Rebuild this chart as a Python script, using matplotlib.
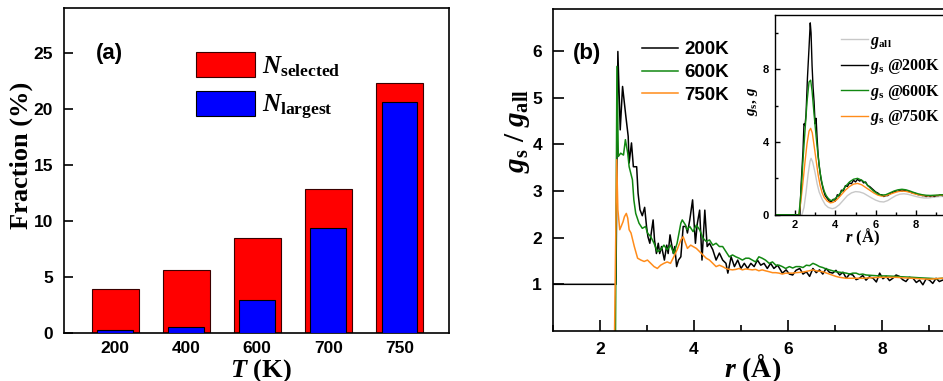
import matplotlib
matplotlib.use('Agg')
import numpy as np
import matplotlib.pyplot as plt
from matplotlib.patches import Patch

plt.rcParams.update({
    'mathtext.fontset': 'custom',
    'mathtext.rm': 'Liberation Serif:bold',
    'mathtext.it': 'Liberation Serif:italic:bold',
    'mathtext.bf': 'Liberation Serif:bold',
    'font.family': 'Liberation Sans',
    'font.weight': 'bold',
})

# ---------------- data: panel (a) ----------------
temps = ['200', '400', '600', '700', '750']
n_selected = [3.9, 5.6, 8.5, 12.85, 22.3]
n_largest = [0.3, 0.5, 2.95, 9.4, 20.6]

# ---------------- data: panel (b) main ----------------
r_200 = [1.0, 2.34, 2.38, 2.43, 2.48, 2.55, 2.60, 2.62, 2.67, 2.71, 2.78, 2.81, 2.85, 2.90, 2.95,
         2.99, 3.02, 3.06, 3.13, 3.16, 3.20, 3.24, 3.27, 3.31, 3.37, 3.42, 3.45, 3.49, 3.52, 3.56,
         3.59, 3.63, 3.67, 3.72, 3.77, 3.83, 3.86, 3.91, 3.97, 4.03, 4.07, 4.12, 4.17, 4.23, 4.28,
         4.33, 4.40, 4.47, 4.54, 4.61, 4.68, 4.72, 4.79, 4.86, 4.93, 5.00, 5.07, 5.14, 5.21, 5.28,
         5.35, 5.42, 5.49, 5.56, 5.63, 5.70, 5.78, 5.88, 5.96, 6.03, 6.10, 6.17, 6.25, 6.32, 6.39,
         6.46, 6.53, 6.60, 6.67, 6.74, 6.81, 6.88, 6.95, 7.02, 7.10, 7.17, 7.24, 7.31, 7.38, 7.45,
         7.52, 7.59, 7.66, 7.73, 7.81, 7.88, 7.95, 8.02, 8.09, 8.16, 8.23, 8.30, 8.37, 8.44, 8.51,
         8.58, 8.66, 8.73, 8.80, 8.87, 8.94, 9.01, 9.08, 9.15, 9.22, 9.29, 9.50, 10.0]
g_200 = [1.0, 1.0, 5.99, 4.31, 5.24, 4.60, 4.17, 3.60, 4.03, 3.52, 3.52, 2.95, 2.60, 2.47, 2.65,
         2.24, 2.02, 1.88, 2.38, 1.95, 1.66, 1.88, 1.66, 1.81, 1.52, 1.84, 1.66, 2.06, 1.88, 1.66,
         1.81, 1.38, 1.52, 1.59, 2.24, 2.24, 2.10, 2.38, 2.81, 1.88, 2.30, 2.59, 1.52, 2.59, 1.81,
         1.88, 1.74, 1.52, 1.67, 1.52, 1.45, 1.24, 1.59, 1.38, 1.52, 1.34, 1.45, 1.34, 1.45, 1.38,
         1.52, 1.41, 1.45, 1.34, 1.45, 1.34, 1.41, 1.24, 1.31, 1.22, 1.20, 1.30, 1.34, 1.22, 1.27,
         1.17, 1.34, 1.25, 1.31, 1.22, 1.34, 1.26, 1.24, 1.30, 1.20, 1.26, 1.13, 1.22, 1.20, 1.10,
         1.13, 1.19, 1.09, 1.16, 1.13, 1.05, 1.24, 1.12, 1.17, 1.08, 1.13, 1.20, 1.17, 1.10, 1.06,
         1.15, 1.13, 1.04, 1.09, 0.99, 1.12, 1.09, 1.02, 1.13, 1.06, 1.09, 1.08, 1.07]

r_600 = [2.33, 2.36, 2.39, 2.44, 2.50, 2.54, 2.59, 2.62, 2.69, 2.72, 2.76, 2.83, 2.90, 2.97,
         3.01, 3.08, 3.15, 3.22, 3.29, 3.36, 3.43, 3.50, 3.57, 3.64, 3.72, 3.75, 3.82, 3.85, 3.91,
         3.98, 4.05, 4.12, 4.19, 4.26, 4.33, 4.40, 4.47, 4.54, 4.61, 4.68, 4.75, 4.82, 4.89, 4.96,
         5.03, 5.10, 5.17, 5.24, 5.31, 5.38, 5.45, 5.52, 5.60, 5.67, 5.74, 5.81, 5.88, 5.95, 6.03,
         6.10, 6.17, 6.25, 6.32, 6.39, 6.46, 6.53, 6.60, 6.67, 6.74, 6.81, 6.88, 6.95, 7.02, 7.10,
         7.17, 7.24, 7.31, 7.38, 7.45, 7.52, 7.59, 7.66, 7.80, 7.94, 8.10, 8.30, 8.45, 8.65, 8.80,
         9.00, 9.15, 9.29, 9.50, 10.0]
g_600 = [0.0, 5.67, 3.74, 3.81, 3.77, 4.10, 3.81, 3.52, 3.24, 2.81, 2.52, 2.31, 2.20, 2.24,
         2.10, 2.02, 1.88, 1.70, 1.74, 1.84, 1.74, 1.84, 1.66, 1.88, 2.31, 2.38, 2.27, 2.17, 2.24,
         2.13, 2.27, 2.17, 1.99, 1.92, 1.95, 1.84, 1.88, 1.81, 1.81, 1.70, 1.59, 1.63, 1.59, 1.56,
         1.52, 1.56, 1.56, 1.52, 1.48, 1.59, 1.56, 1.52, 1.45, 1.48, 1.41, 1.41, 1.38, 1.34, 1.38,
         1.35, 1.38, 1.38, 1.36, 1.41, 1.40, 1.45, 1.42, 1.38, 1.36, 1.33, 1.31, 1.29, 1.27, 1.26,
         1.25, 1.24, 1.22, 1.24, 1.24, 1.21, 1.22, 1.20, 1.19, 1.18, 1.18, 1.17, 1.16, 1.15, 1.14,
         1.13, 1.12, 1.13, 1.12, 1.10]

r_750 = [2.31, 2.355, 2.38, 2.42, 2.45, 2.49, 2.52, 2.56, 2.59, 2.62, 2.66, 2.73, 2.80, 2.87,
         2.94, 3.01, 3.08, 3.15, 3.22, 3.29, 3.36, 3.43, 3.50, 3.57, 3.64, 3.72, 3.77, 3.82, 3.86,
         3.93, 3.98, 4.05, 4.12, 4.19, 4.26, 4.33, 4.40, 4.47, 4.54, 4.61, 4.68, 4.75, 4.82, 4.89,
         4.96, 5.03, 5.10, 5.17, 5.24, 5.31, 5.38, 5.45, 5.52, 5.60, 5.67, 5.74, 5.81, 5.88, 5.95,
         6.10, 6.17, 6.30, 6.45, 6.53, 6.60, 6.74, 6.88, 7.02, 7.10, 7.24, 7.40, 7.59, 7.75, 7.94,
         8.10, 8.30, 8.45, 8.65, 8.80, 9.00, 9.15, 9.29, 9.50, 10.0]
g_750 = [0.0, 3.67, 2.60, 2.17, 2.24, 2.34, 2.45, 2.52, 2.42, 2.17, 2.10, 1.81, 1.56, 1.52,
         1.49, 1.52, 1.45, 1.38, 1.34, 1.41, 1.45, 1.48, 1.45, 1.59, 1.74, 1.95, 2.02, 1.88, 1.77,
         1.84, 1.81, 1.77, 1.70, 1.63, 1.56, 1.52, 1.45, 1.38, 1.41, 1.38, 1.34, 1.32, 1.31, 1.32,
         1.34, 1.31, 1.33, 1.32, 1.31, 1.32, 1.29, 1.31, 1.29, 1.27, 1.25, 1.25, 1.24, 1.22, 1.24,
         1.24, 1.25, 1.26, 1.29, 1.31, 1.29, 1.27, 1.22, 1.17, 1.15, 1.13, 1.13, 1.13, 1.14, 1.15,
         1.15, 1.15, 1.14, 1.13, 1.12, 1.11, 1.12, 1.13, 1.12, 1.10]

# ---------------- data: inset ----------------
ri_all = [1.0, 2.35, 2.45, 2.55, 2.65, 2.75, 2.80, 2.88, 3.00, 3.10, 3.20, 3.35, 3.50, 3.65, 3.85,
          4.00, 4.20, 4.40, 4.60, 4.80, 5.00, 5.20, 5.40, 5.60, 5.80, 6.00, 6.20, 6.40, 6.60, 6.80,
          7.00, 7.20, 7.40, 7.60, 7.80, 8.00, 8.20, 8.40, 8.60, 8.80, 9.00, 9.20, 9.50, 10.0]
gi_all = [0.0, 0.0, 0.40, 1.20, 2.20, 2.95, 3.10, 2.90, 2.30, 1.70, 1.25, 0.85, 0.55, 0.40, 0.33,
          0.38, 0.55, 0.80, 1.05, 1.20, 1.27, 1.25, 1.18, 1.05, 0.92, 0.80, 0.72, 0.70, 0.78, 0.92,
          1.05, 1.13, 1.15, 1.12, 1.06, 1.00, 0.95, 0.92, 0.92, 0.95, 0.98, 1.00, 1.01, 1.00]

ri_200 = [1.0, 2.25, 2.30, 2.40, 2.45, 2.50, 2.55, 2.62, 2.70, 2.76, 2.80, 2.85, 2.90, 2.95, 3.00,
          3.05, 3.10, 3.15, 3.20, 3.30, 3.40, 3.50, 3.60, 3.70, 3.80, 3.90, 4.00, 4.10, 4.20, 4.30,
          4.40, 4.50, 4.60, 4.70, 4.80, 4.90, 5.00, 5.10, 5.20, 5.30, 5.40, 5.50, 5.60, 5.70, 5.80,
          5.90, 6.00, 6.10, 6.20, 6.30, 6.40, 6.50, 6.60, 6.70, 6.80, 6.90, 7.00, 7.10, 7.20, 7.30,
          7.40, 7.50, 7.60, 7.70, 7.80, 7.90, 8.00, 8.10, 8.20, 8.30, 8.40, 8.50, 8.60, 8.70, 8.80,
          8.90, 9.00, 9.10, 9.20, 9.30, 9.50, 10.0]
gi_200 = [0.0, 0.0, 1.5, 3.5, 5.0, 4.9, 5.5, 7.5, 9.2, 10.55, 10.0, 8.2, 7.0, 6.2, 5.0,
          5.3, 4.2, 3.3, 2.7, 1.9, 1.4, 1.05, 0.90, 0.75, 0.70, 0.85, 0.75, 1.10, 1.00, 1.35,
          1.30, 1.60, 1.55, 1.75, 1.70, 1.90, 1.80, 1.95, 1.85, 1.90, 1.75, 1.80, 1.60, 1.55, 1.45,
          1.35, 1.25, 1.20, 1.10, 1.10, 1.00, 1.05, 1.05, 1.15, 1.20, 1.25, 1.30, 1.28, 1.35, 1.30,
          1.35, 1.30, 1.30, 1.25, 1.20, 1.20, 1.15, 1.10, 1.10, 1.05, 1.05, 1.00, 1.05, 1.00, 1.05,
          1.00, 1.05, 1.05, 1.10, 1.05, 1.10, 1.10]

ri_600 = [1.0, 2.20, 2.30, 2.40, 2.50, 2.60, 2.70, 2.78, 2.85, 2.95, 3.05, 3.15, 3.25, 3.35, 3.45,
          3.55, 3.65, 3.75, 3.85, 3.95, 4.10, 4.30, 4.50, 4.70, 4.90, 5.10, 5.30, 5.50, 5.70, 5.90,
          6.10, 6.30, 6.50, 6.70, 6.90, 7.10, 7.30, 7.50, 7.70, 7.90, 8.10, 8.30, 8.50, 8.70, 8.90,
          9.10, 9.30, 9.60, 10.0]
gi_600 = [0.0, 0.0, 1.2, 3.0, 4.6, 6.2, 7.3, 7.4, 6.8, 5.5, 4.3, 3.2, 2.3, 1.7, 1.3,
          1.05, 0.90, 0.80, 0.78, 0.85, 1.00, 1.25, 1.55, 1.80, 1.95, 2.00, 1.90, 1.75, 1.50, 1.30,
          1.15, 1.08, 1.10, 1.20, 1.30, 1.37, 1.40, 1.37, 1.30, 1.22, 1.15, 1.10, 1.07, 1.06, 1.07,
          1.08, 1.10, 1.10, 1.10]

ri_750 = [1.0, 2.20, 2.30, 2.40, 2.50, 2.60, 2.70, 2.78, 2.86, 2.95, 3.05, 3.15, 3.25, 3.35, 3.45,
          3.60, 3.75, 3.90, 4.10, 4.30, 4.50, 4.70, 4.90, 5.10, 5.30, 5.50, 5.70, 5.90, 6.10, 6.30,
          6.50, 6.70, 6.90, 7.10, 7.30, 7.50, 7.70, 7.90, 8.10, 8.30, 8.50, 8.70, 8.90, 9.10, 9.30,
          9.60, 10.0]
gi_750 = [0.0, 0.0, 0.8, 1.8, 2.9, 3.9, 4.6, 4.75, 4.5, 3.8, 3.0, 2.2, 1.6, 1.2, 0.95,
          0.75, 0.65, 0.68, 0.85, 1.10, 1.35, 1.55, 1.68, 1.72, 1.65, 1.50, 1.35, 1.20, 1.08, 1.02,
          1.05, 1.12, 1.20, 1.27, 1.30, 1.28, 1.23, 1.15, 1.10, 1.06, 1.04, 1.04, 1.05, 1.06, 1.08,
          1.08, 1.07]

# ---------------- styling ----------------
W, H = 943, 381
RED, BLUE = '#ff0000', '#0000ff'
C200, C600, C750, CALL = '#000000', '#118811', '#ff8c1a', '#c8c8c8'
SERIF = {'family': 'Liberation Serif', 'weight': 'bold'}
SANS = {'family': 'Liberation Sans', 'weight': 'bold'}

fig = plt.figure(figsize=(W / 100, H / 100), dpi=100)


def fx(px):
    return px / W


def fy(py):
    return 1 - py / H


def style_spines(ax, lw):
    for s in ax.spines.values():
        s.set_linewidth(lw)


# ---------------- panel (a) ----------------
axA = fig.add_axes([fx(64), fy(333), 385 / W, 324.7 / H])
xpos = np.arange(len(temps))
axA.bar(xpos, n_selected, width=0.66, color=RED, edgecolor='#3a0000', linewidth=0.8, zorder=2)
axA.bar(xpos, n_largest, width=0.50, color=BLUE, edgecolor='black', linewidth=0.8, zorder=3)
axA.set_xlim(-0.72, 4.70)
axA.set_ylim(0, 29)
axA.set_xticks(xpos, temps)
axA.set_yticks([0, 5, 10, 15, 20, 25])
axA.tick_params(axis='x', direction='in', length=5, width=1.2, pad=6, labelsize=12.5)
axA.tick_params(axis='y', direction='in', length=6.5, width=1.2, pad=8, labelsize=12.5)
for lab in axA.get_xticklabels() + axA.get_yticklabels():
    lab.set_fontfamily('Liberation Sans')
    lab.set_fontweight('bold')
style_spines(axA, 1.2)
axA.text(0.119, 0.862, '(a)', transform=axA.transAxes, ha='center', va='center',
         fontsize=16, **SANS)
axA.legend(handles=[Patch(facecolor=RED, edgecolor='#3a0000', linewidth=0.8),
                    Patch(facecolor=BLUE, edgecolor='black', linewidth=0.8)],
           labels=[r'$\mathit{N}_{\mathrm{selected}}$', r'$\mathit{N}_{\mathrm{largest}}$'],
           loc='upper left', bbox_to_anchor=(fx(196), fy(52)), bbox_transform=fig.transFigure,
           frameon=False, prop={'family': 'Liberation Serif', 'weight': 'bold', 'size': 18},
           handlelength=2.36, handleheight=1.16, handletextpad=0.28, labelspacing=0.5,
           borderpad=0, borderaxespad=0)
fig.text(fx(21.7), fy(155), 'Fraction (%)', rotation=90, ha='center', va='center',
         fontsize=19, **SERIF)
fig.text(fx(261), fy(376.5), r'$\mathit{T}$ (K)', ha='center', va='baseline', fontsize=19, **SERIF)

# ---------------- panel (b) ----------------
axB = fig.add_axes([fx(553), fy(331), 423 / W, 322 / H])
axB.plot(r_200, g_200, color=C200, lw=1.1, label='200K')
axB.plot(r_600, g_600, color=C600, lw=1.1, label='600K')
axB.plot(r_750, g_750, color=C750, lw=1.1, label='750K')
axB.set_xlim(1, 10)
axB.set_ylim(0, 6.9)
axB.set_xticks([2, 4, 6, 8])
axB.set_xticks([1, 3, 5, 7, 9], minor=True)
axB.set_yticks([1, 2, 3, 4, 5, 6])
axB.tick_params(axis='both', which='major', direction='in', length=8, width=1.2, pad=8,
                labelsize=12.5)
axB.tick_params(axis='x', which='minor', direction='in', length=4, width=1.2)
for lab in axB.get_xticklabels() + axB.get_yticklabels():
    lab.set_fontfamily('Liberation Sans')
    lab.set_fontweight('bold')
style_spines(axB, 1.2)
axB.text(0.0797, 0.863, '(b)', transform=axB.transAxes, ha='center', va='center',
         fontsize=16, **SANS)
axB.legend(loc='upper left', bbox_to_anchor=(fx(641.7), fy(41)), bbox_transform=fig.transFigure,
           frameon=False, prop={'family': 'Liberation Sans', 'weight': 'bold', 'size': 13.5},
           handlelength=1.94, handletextpad=0.32, labelspacing=0.31, borderpad=0, borderaxespad=0)
fig.text(fx(517), fy(131), r'$\mathit{g}_{\mathrm{s}}$ / $\mathit{g}_{\mathrm{all}}$', rotation=90,
         ha='center', va='center', fontsize=21, **SERIF)
fig.text(fx(752.5), fy(377), r'$\mathit{r}$ (Å)', ha='center', va='baseline', fontsize=20, **SERIF)

# ---------------- inset ----------------
axI = fig.add_axes([fx(774.7), fy(214.7), 181.8 / W, 200 / H])
axI.plot(ri_all, gi_all, color=CALL, lw=1.0, label=r'$\mathit{g}_{\mathrm{all}}$')
axI.plot(ri_200, gi_200, color=C200, lw=1.0, label=r'$\mathit{g}_{\mathrm{s}}$ @200K')
axI.plot(ri_750, gi_750, color=C750, lw=1.0, label=r'$\mathit{g}_{\mathrm{s}}$ @750K')
axI.plot(ri_600, gi_600, color=C600, lw=1.0, label=r'$\mathit{g}_{\mathrm{s}}$ @600K')
axI.set_xlim(1, 10)
axI.set_ylim(0, 11)
axI.set_xticks([2, 4, 6, 8])
axI.set_xticks([3, 5, 7, 9], minor=True)
axI.set_yticks([0, 4, 8])
axI.set_yticks([2, 6, 10], minor=True)
axI.tick_params(axis='both', which='major', direction='in', length=3.5, width=1.0, pad=4,
                labelsize=8)
axI.tick_params(axis='both', which='minor', direction='in', length=2, width=1.0)
for lab in axI.get_xticklabels() + axI.get_yticklabels():
    lab.set_fontfamily('Liberation Sans')
    lab.set_fontweight('bold')
style_spines(axI, 1.0)
hI, lI = axI.get_legend_handles_labels()
order = [0, 1, 3, 2]
axI.legend([hI[i] for i in order], [lI[i] for i in order], loc='upper left',
           bbox_to_anchor=(fx(841), fy(33)), bbox_transform=fig.transFigure, frameon=False,
           prop={'family': 'Liberation Serif', 'weight': 'bold', 'size': 11.5},
           handlelength=1.69, handletextpad=0.12, labelspacing=0.4, borderpad=0, borderaxespad=0)
fig.text(fx(753), fy(101), r'$\mathit{g}_{\mathrm{s}}$, $\mathit{g}$', rotation=90, ha='center',
         va='center', fontsize=11, **SERIF)
fig.text(fx(863), fy(242), r'$\mathit{r}$ (Å)', ha='center', va='baseline', fontsize=12, **SERIF)

fig.savefig('out.png', dpi=100)
